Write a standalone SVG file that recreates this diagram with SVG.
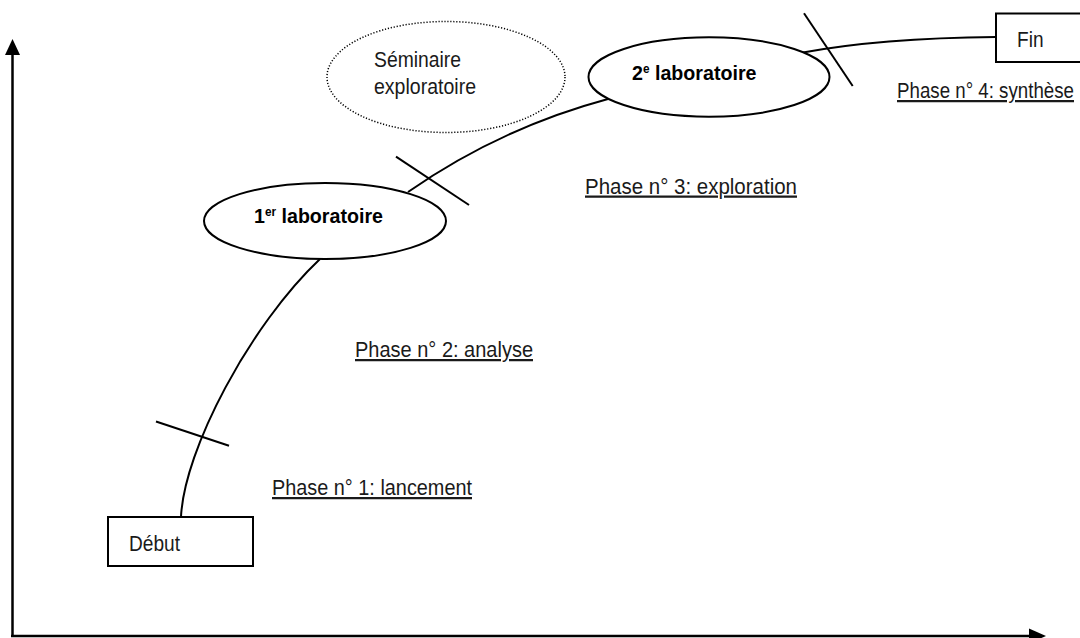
<svg xmlns="http://www.w3.org/2000/svg" width="1080" height="638" viewBox="0 0 1080 638">
<style>
.ln{fill:none;stroke:#000;stroke-width:2}
.box{fill:#fff;stroke:#000;stroke-width:2}
.t{font-family:"Liberation Sans",Arial,sans-serif;font-size:22.5px;fill:#1a1a1a}
.b{font-family:"Liberation Sans",Arial,sans-serif;font-size:20px;font-weight:bold;fill:#000}
.sup{font-size:12px}
.u{text-decoration:underline}
</style>
<rect width="1080" height="638" fill="#fff"/>
<g id="axes">
<line x1="12.5" y1="54" x2="12.5" y2="637" stroke="#000" stroke-width="2.5"/>
<polygon points="12.5,39 5,55 20,55" fill="#000"/>
<line x1="11" y1="636" x2="1030" y2="636" stroke="#000" stroke-width="2.5"/>
<polygon points="1029,628.5 1046,636 1029,643.5" fill="#000"/>
</g>
<g id="connectors">
<path class="ln" d="M181 517 C184 450 250 325 320 259"/>
<path class="ln" d="M408 192 Q500 128 608 99"/>
<path class="ln" d="M800 53 Q880 38 996 37"/>
<line class="ln" x1="156" y1="421.5" x2="229" y2="445.7"/>
<line class="ln" x1="396" y1="156.7" x2="469" y2="205"/>
<line class="ln" x1="804" y1="13.3" x2="852.7" y2="86"/>
</g>
<g id="debut">
<rect class="box" x="108" y="517" width="145" height="49"/>
<text class="t" x="129" y="550.5" textLength="51" lengthAdjust="spacingAndGlyphs">Début</text>
</g>
<g id="fin">
<rect class="box" x="996" y="13.5" width="100" height="48.5"/>
<text class="t" x="1017" y="46.5" textLength="26.5" lengthAdjust="spacingAndGlyphs">Fin</text>
</g>
<g id="lab1">
<ellipse class="box" cx="325" cy="221" rx="121" ry="38"/>
<text class="b" x="254" y="223" textLength="129" lengthAdjust="spacingAndGlyphs">1<tspan class="sup" dy="-7">er</tspan><tspan dy="7"> laboratoire</tspan></text>
</g>
<g id="lab2">
<ellipse class="box" cx="709" cy="77" rx="120.5" ry="39.7"/>
<text class="b" x="632" y="79.5" textLength="124.5" lengthAdjust="spacingAndGlyphs">2<tspan class="sup" dy="-7">e</tspan><tspan dy="7"> laboratoire</tspan></text>
</g>
<g id="seminaire">
<ellipse cx="446" cy="77" rx="119" ry="55.5" fill="none" stroke="#000" stroke-width="1.5" stroke-dasharray="1.2 1.8"/>
<text class="t" x="374" y="67" textLength="87" lengthAdjust="spacingAndGlyphs">Séminaire</text>
<text class="t" x="374" y="93.5" textLength="102" lengthAdjust="spacingAndGlyphs">exploratoire</text>
</g>
<g id="phases">
<text class="t u" x="272" y="495" textLength="200" lengthAdjust="spacingAndGlyphs">Phase n° 1: lancement</text>
<text class="t u" x="355" y="357" textLength="178" lengthAdjust="spacingAndGlyphs">Phase n° 2: analyse</text>
<text class="t u" x="585" y="193.5" textLength="212" lengthAdjust="spacingAndGlyphs">Phase n° 3: exploration</text>
<text class="t u" x="897" y="98" textLength="177" lengthAdjust="spacingAndGlyphs">Phase n° 4: synthèse</text>
</g>
</svg>
